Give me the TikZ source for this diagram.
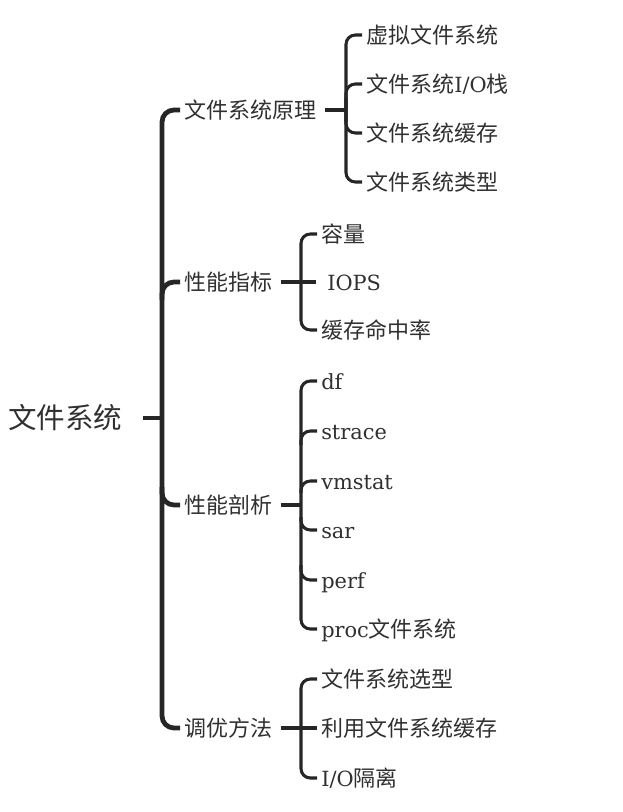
\documentclass[tikz,border=0pt]{standalone}
\usepackage{fontspec}
\setmainfont{DejaVu Serif}[Scale=0.95]
\newfontfamily\cjk{Noto Sans CJK SC}
\usepackage{tikz}
\usetikzlibrary{
	positioning,
	calc
}
\newcommand{\zh}[1]{{\cjk #1}}
\definecolor{inkline}{HTML}{262626}
\definecolor{inktext}{HTML}{303030}

\begin{document}
\begin{tikzpicture}[
		x=0.75pt, y=-0.75pt,
		rootbox/.style={anchor=west, inner ysep=0pt, inner xsep=3pt, text=inktext, font=\fontsize{21.4}{24}\selectfont, text height=18.8pt, text depth=2.6pt},
		topicbox/.style={anchor=west, inner ysep=0pt, inner xsep=3pt, text=inktext, font=\fontsize{16.5}{20}\selectfont, text height=14.5pt, text depth=2pt},
		trunk/.style={draw=inkline, line width=3.6pt, rounded corners=9pt},
		twig/.style={draw=inkline, line width=2.3pt, rounded corners=7pt},
		stub/.style={draw=inkline, line width=2.3pt, shorten <=3pt}
		]
		\useasboundingbox (0,0) rectangle (622,812);
		
		% --- Root ---
		\node[rootbox] (fs) at (4,418) {\zh{文件系统}};
		\coordinate (mainbar) at (162,418);
		
		% --- First level ---
		\node[topicbox] (principle) at (180,110) {\zh{文件系统原理}};
		\node[topicbox] (metric) at (180,282) {\zh{性能指标}};
		\node[topicbox] (analysis) at (180,505) {\zh{性能剖析}};
		\node[topicbox] (tuning) at (180,728) {\zh{调优方法}};
		
		% --- Principle ---
		\coordinate (pbar) at (346,110);
		\node[topicbox] (vfs) at (362,35) {\zh{虚拟文件系统}};
		\node[topicbox] (iostack) at (362,84) {\zh{文件系统}I/O\zh{栈}};
		\node[topicbox] (fscache) at (362,133) {\zh{文件系统缓存}};
		\node[topicbox] (fstype) at (362,182) {\zh{文件系统类型}};
		
		% --- Metrics ---
		\coordinate (mbar) at (301,282);
		\node[topicbox] (capacity) at (317,234) {\zh{容量}};
		\node[topicbox] (iops) at (323,282) {IOPS};
		\node[topicbox] (hitrate) at (317,330) {\zh{缓存命中率}};
		
		% --- Analysis ---
		\coordinate (abar) at (301,505);
		\node[topicbox] (df) at (317,381) {df};
		\node[topicbox] (strace) at (317,431) {strace};
		\node[topicbox] (vmstat) at (317,481) {vmstat};
		\node[topicbox] (sar) at (317,530) {sar};
		\node[topicbox] (perf) at (317,580) {perf};
		\node[topicbox] (procfs) at (317,629) {proc\zh{文件系统}};
		
		% --- Tuning ---
		\coordinate (tbar) at (301,728);
		\node[topicbox] (fschoice) at (317,679) {\zh{文件系统选型}};
		\node[topicbox] (usecache) at (317,728) {\zh{利用文件系统缓存}};
		\node[topicbox] (ioiso) at (317,778) {I/O\zh{隔离}};
		
		% --- Brackets ---
		\draw[trunk, shorten <=12pt, rounded corners=0pt] (fs.east) -- (mainbar);
		\draw[trunk] (principle.west) -| (mainbar) |- (tuning.west);
		\draw[trunk] ($(mainbar)+(0,300-418)$) |- (metric.west);
		\draw[trunk] ($(mainbar)+(0,487-418)$) |- (analysis.west);
		
		\draw[stub] (principle.east) -- (pbar);
		\draw[twig] (vfs.west) -| (pbar) |- (fstype.west);
		\draw[twig] ($(pbar)+(0,12)$) |- (iostack.west);
		\draw[twig] ($(pbar)+(0,-12)$) |- (fscache.west);
		
		\draw[stub] (metric.east) -- ([xshift=-5pt]iops.west);
		\draw[twig] (capacity.west) -| (mbar) |- (hitrate.west);
		
		\draw[stub] (analysis.east) -- (abar);
		\draw[twig] (df.west) -| (abar) |- (procfs.west);
		\draw[twig] ($(abar)+(0,-60)$) |- (strace.west);
		\draw[twig] ($(abar)+(0,-12)$) |- (vmstat.west);
		\draw[twig] ($(abar)+(0,12)$) |- (sar.west);
		\draw[twig] ($(abar)+(0,60)$) |- (perf.west);
		
		\draw[stub] (tuning.east) -- (usecache.west);
		\draw[twig] (fschoice.west) -| (tbar) |- (ioiso.west);
	\end{tikzpicture}
\end{document}
